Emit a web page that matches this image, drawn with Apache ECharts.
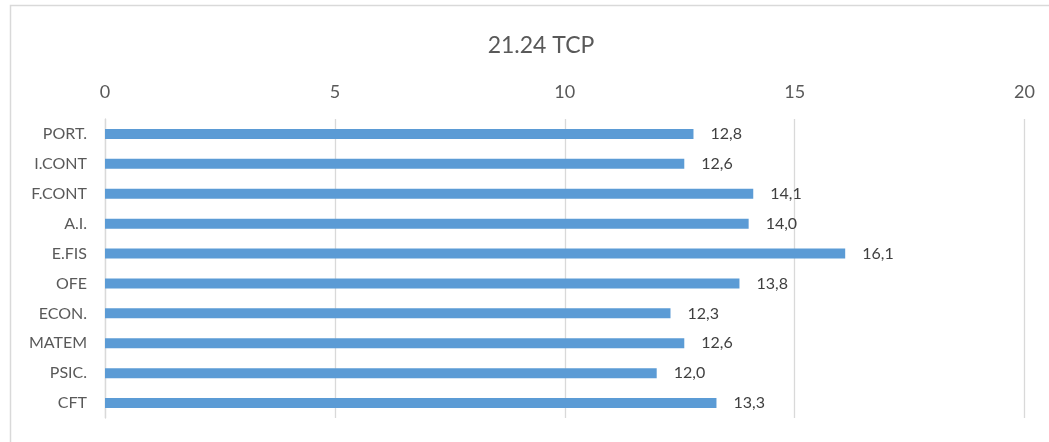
<!DOCTYPE html>
<html>
<head>
<meta charset="utf-8">
<script src="https://cdn.jsdelivr.net/npm/echarts@6/dist/echarts.min.js"></script>
<style>html,body{margin:0;padding:0;background:#fff}#c{width:1049px;height:442px}</style>
</head>
<body>
<div id="c"></div>
<script>
var categories = ['PORT.', 'I.CONT', 'F.CONT', 'A.I.', 'E.FIS', 'OFE', 'ECON.', 'MATEM', 'PSIC.', 'CFT'];
var values = [12.8, 12.6, 14.1, 14.0, 16.1, 13.8, 12.3, 12.6, 12.0, 13.3];
var xTicks = [0, 5, 10, 15, 20];

var chart = echarts.init(document.getElementById('c'), null, {renderer: 'canvas'});
var font = "Lato, 'Open Sans', sans-serif";
chart.setOption({
  animation: false,
  title: {
    text: '21.24 TCP', left: 536, top: 29, textAlign: 'center',
    textStyle: {fontFamily: font, fontSize: 23, fontWeight: 'normal', color: '#595959'}
  },
  graphic: [{
    type: 'rect', shape: {x: 10.5, y: 5.5, width: 1200, height: 600},
    style: {fill: 'none', stroke: '#d9d9d9', lineWidth: 1.5}, silent: true
  }],
  grid: {left: 105, right: 24.5, top: 119, bottom: 24},
  xAxis: {
    type: 'value', position: 'top', min: xTicks[0], max: xTicks[xTicks.length - 1], interval: 5,
    axisLine: {show: false}, axisTick: {show: false},
    splitLine: {lineStyle: {color: '#d9d9d9', width: 1.3}},
    axisLabel: {fontFamily: font, fontSize: 18, color: '#595959', margin: 18}
  },
  yAxis: {
    type: 'category', data: categories, inverse: true,
    axisLine: {lineStyle: {color: '#d9d9d9', width: 1.3}}, axisTick: {show: false},
    axisLabel: {fontFamily: font, fontSize: 16, color: '#595959', margin: 18}
  },
  series: [{
    type: 'bar', data: values, barWidth: 10,
    itemStyle: {color: '#5B9BD5'},
    label: {
      show: true, position: 'right', distance: 17,
      fontFamily: font, fontSize: 16, color: '#404040',
      formatter: function (p) { return p.value.toFixed(1).replace('.', ','); }
    }
  }]
});
</script>
</body>
</html>
